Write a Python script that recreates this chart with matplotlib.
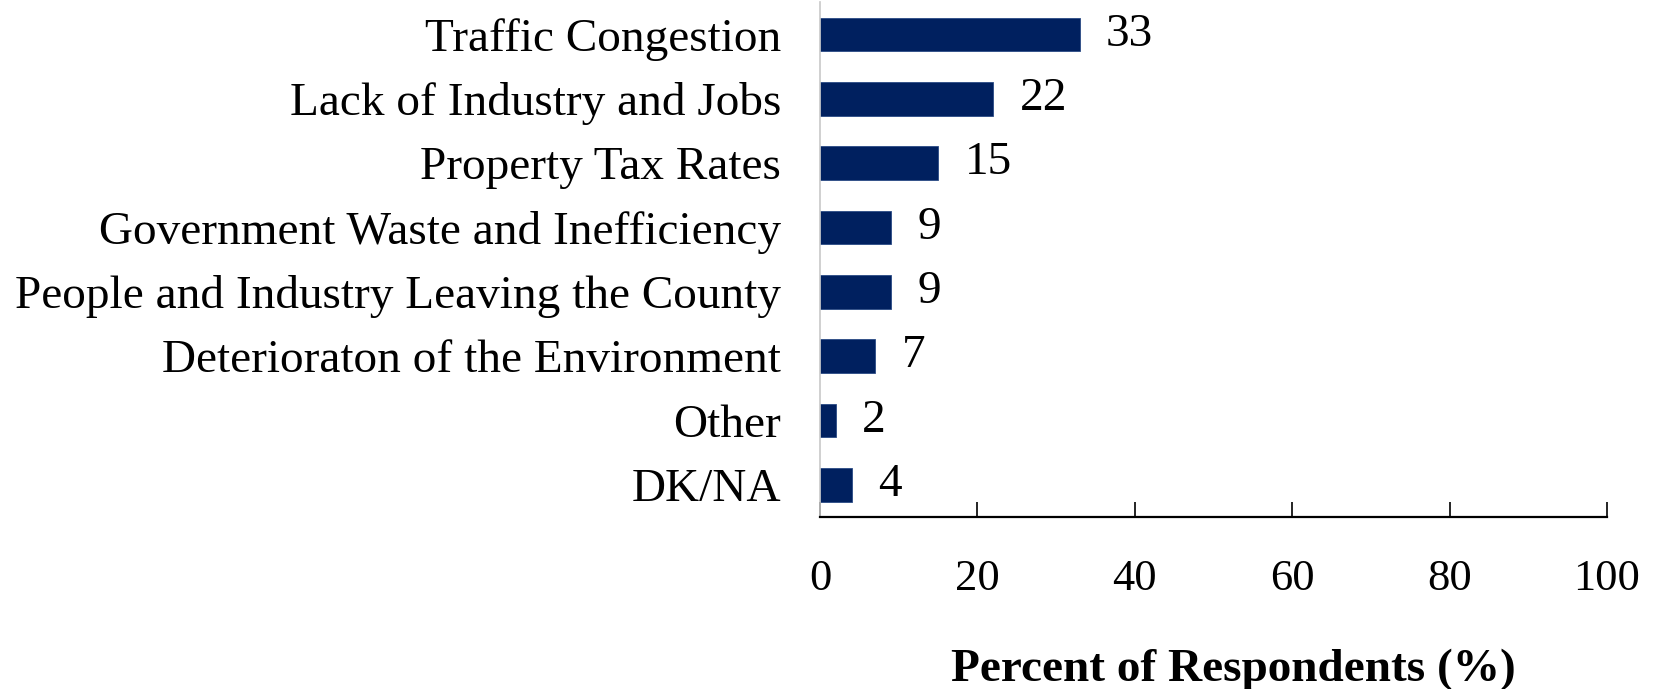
import matplotlib.pyplot as plt

# survey answers, top to bottom
issues = [
    "Traffic Congestion",
    "Lack of Industry and Jobs",
    "Property Tax Rates",
    "Government Waste and Inefficiency",
    "People and Industry Leaving the County",
    "Deterioraton of the Environment",
    "Other",
    "DK/NA",
]
percent = [33, 22, 15, 9, 9, 7, 2, 4]
x_ticks = [0, 20, 40, 60, 80, 100]

plt.rcParams["font.family"] = ["Liberation Serif", "DejaVu Serif"]

fig = plt.figure(figsize=(16.58, 6.89), dpi=100)
ax = fig.add_axes([0.4946, 0.2496, 0.4746, 0.747])

pos = list(range(len(issues)))
ax.barh(pos, percent, height=0.52, color="#00205f", edgecolor="#2a4a85", linewidth=0.6)

for y, v in zip(pos, percent):
    ax.annotate(str(v), (v, y), xytext=(19, 0), textcoords="offset points",
                ha="left", va="center", fontsize=34)

ax.set_ylim(len(issues) - 0.5, -0.5)
ax.set_xlim(0, 100)
ax.set_yticks(pos)
ax.set_yticklabels(issues, fontsize=34)
ax.set_xticks(x_ticks)
ax.set_xticklabels([str(t) for t in x_ticks], fontsize=32)

ax.tick_params(axis="y", length=0, pad=28)
ax.tick_params(axis="x", direction="in", length=11, width=1.2, pad=30)

for s in ["top", "right"]:
    ax.spines[s].set_visible(False)
ax.spines["left"].set_color("#c8c8c8")
ax.spines["left"].set_linewidth(1.2)
ax.spines["bottom"].set_linewidth(1.6)

# label sits a bit right of the axis centre in the original
ax.set_xlabel("Percent of Respondents (%)", fontsize=34, fontweight="bold",
              labelpad=36, x=0.525)

fig.savefig("out.png", dpi=100)
